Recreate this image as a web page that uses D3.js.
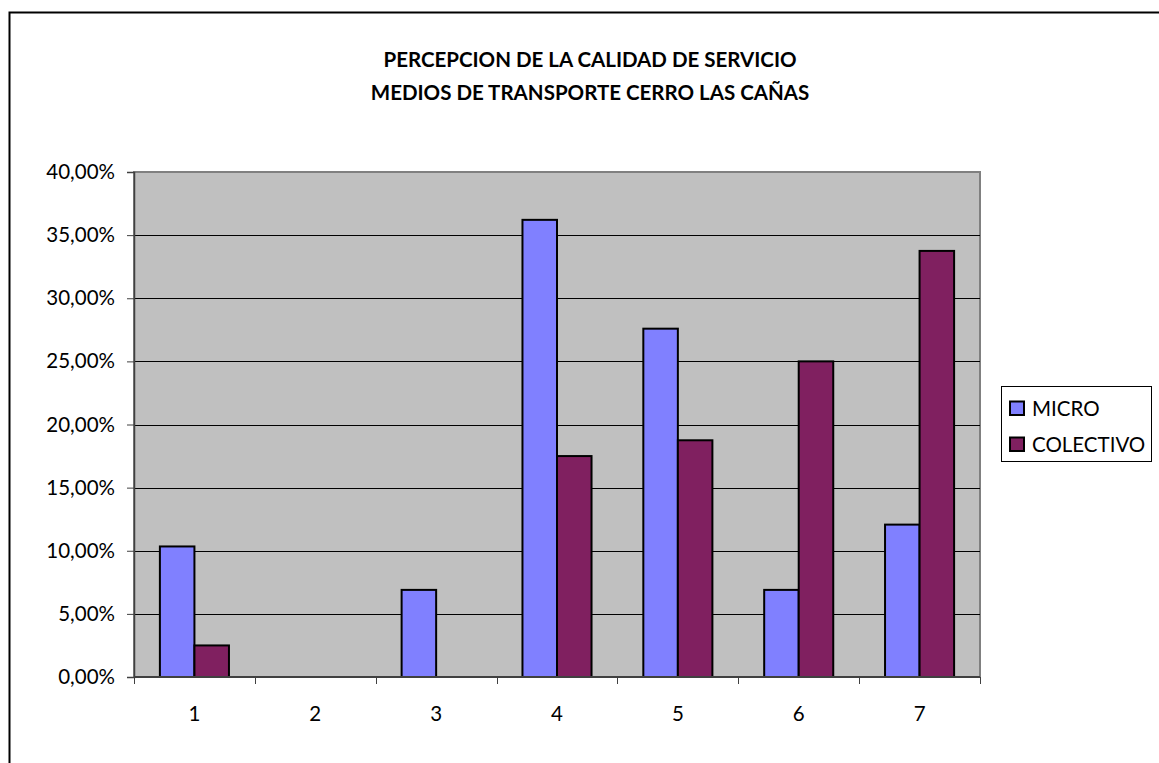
<!DOCTYPE html>
<html>
<head>
<meta charset="utf-8">
<script src="https://cdn.jsdelivr.net/npm/d3@7"></script>
<style>
  html, body { margin: 0; padding: 0; background: #fff; }
  svg { display: block; font-family: Lato, "Open Sans", sans-serif; }
</style>
</head>
<body>
<svg id="chart" width="1159" height="763"></svg>
<script>
// data
const categories = ['1', '2', '3', '4', '5', '6', '7'];
const microValues = [10.34, 0, 6.90, 36.21, 27.59, 6.90, 12.07];
const colectivoValues = [2.5, 0, 0, 17.5, 18.75, 25, 33.75];
const seriesNames = ['MICRO', 'COLECTIVO'];
const yTicks = [0, 5, 10, 15, 20, 25, 30, 35, 40];
const titleLines = ['PERCEPCION DE LA CALIDAD DE SERVICIO', 'MEDIOS DE TRANSPORTE CERRO LAS CAÑAS'];

const COLORS = { micro: '#8080FF', colectivo: '#802060', plot: '#C0C0C0' };

const svg = d3.select('#chart');

// outer chart border (runs off the right/bottom edge)
svg.append('rect')
    .attr('x', 9.5).attr('y', 12.5)
    .attr('width', 1200).attr('height', 800)
    .attr('fill', '#fff')
    .attr('stroke', '#000')
    .attr('stroke-width', 2);

// title
svg.append('g').selectAll('text')
    .data(titleLines)
    .join('text')
    .attr('x', 590)
    .attr('y', (d, i) => 67 + i * 32.5)
    .attr('text-anchor', 'middle')
    .attr('font-weight', 'bold')
    .attr('font-size', 20.5)
    .attr('fill', '#000')
    .text(d => d);

const plot = { left: 134, right: 980, top: 172, bottom: 677 };

const x0 = d3.scaleBand()
    .domain(categories)
    .range([plot.left, plot.right])
    .paddingInner(0)
    .paddingOuter(0);

// gap width 150% -> bars take 2/3.5 of the category
const barW = x0.bandwidth() / 3.5;
const groupOffset = (x0.bandwidth() - 2 * barW) / 2;

const y = d3.scaleLinear().domain([0, 40]).range([plot.bottom, plot.top]);

// plot area
svg.append('rect')
    .attr('x', plot.left).attr('y', plot.top)
    .attr('width', plot.right - plot.left)
    .attr('height', plot.bottom - plot.top)
    .attr('fill', COLORS.plot)
    .attr('stroke', '#808080')
    .attr('stroke-width', 2);

// gridlines
svg.append('g').selectAll('line')
    .data(yTicks.filter(t => t > 0 && t < 40))
    .join('line')
    .attr('x1', plot.left).attr('x2', plot.right)
    .attr('y1', d => Math.round(y(d)) + 0.5).attr('y2', d => Math.round(y(d)) + 0.5)
    .attr('stroke', '#000')
    .attr('stroke-width', 1);

// bars
const series = [
    { name: seriesNames[0], values: microValues, color: COLORS.micro, idx: 0 },
    { name: seriesNames[1], values: colectivoValues, color: COLORS.colectivo, idx: 1 }
];

series.forEach(s => {
    svg.append('g').selectAll('rect')
        .data(s.values.map((v, i) => ({ cat: categories[i], v })).filter(d => d.v > 0))
        .join('rect')
        .attr('x', d => x0(d.cat) + groupOffset + s.idx * barW)
        .attr('y', d => y(d.v))
        .attr('width', barW)
        .attr('height', d => y(0) - y(d.v))
        .attr('fill', s.color)
        .attr('stroke', '#000')
        .attr('stroke-width', 2);
});

// y axis
const yAxis = svg.append('g')
    .attr('transform', `translate(${plot.left},0)`)
    .call(d3.axisLeft(y)
        .tickValues(yTicks)
        .tickSize(7)
        .tickPadding(12)
        .tickFormat(d => d3.format('.2f')(d).replace('.', ',') + '%'));
yAxis.select('.domain').attr('stroke', '#404040').attr('stroke-width', 1.5);
yAxis.selectAll('.tick line').attr('stroke', '#404040');
yAxis.selectAll('text')
    .attr('font-size', 20.5)
    .attr('font-family', 'Lato, sans-serif')
    .attr('fill', '#000');

// x axis: ticks on category boundaries, labels centred
const xAxisG = svg.append('g').attr('transform', `translate(0,${plot.bottom})`);
xAxisG.append('line')
    .attr('x1', plot.left).attr('x2', plot.right)
    .attr('y1', 0).attr('y2', 0)
    .attr('stroke', '#404040').attr('stroke-width', 2);
const boundaries = categories.map(c => x0(c)).concat([plot.right]);
xAxisG.selectAll('line.tk')
    .data(boundaries)
    .join('line')
    .attr('class', 'tk')
    .attr('x1', d => Math.round(d) + 0.5).attr('x2', d => Math.round(d) + 0.5)
    .attr('y1', 0).attr('y2', 7)
    .attr('stroke', '#404040');
xAxisG.selectAll('text')
    .data(categories)
    .join('text')
    .attr('x', d => x0(d) + x0.bandwidth() / 2)
    .attr('y', 44)
    .attr('text-anchor', 'middle')
    .attr('font-size', 20.5)
    .attr('fill', '#000')
    .text(d => d);

// legend
const legend = svg.append('g');
legend.append('rect')
    .attr('x', 1001.5).attr('y', 386.5)
    .attr('width', 150).attr('height', 75)
    .attr('fill', '#fff')
    .attr('stroke', '#000')
    .attr('stroke-width', 1);
const items = legend.selectAll('g.item')
    .data(series)
    .join('g')
    .attr('class', 'item')
    .attr('transform', (d, i) => `translate(1010,${401.5 + i * 36})`);
items.append('rect')
    .attr('width', 14).attr('height', 13.5)
    .attr('fill', d => d.color)
    .attr('stroke', '#000')
    .attr('stroke-width', 2);
items.append('text')
    .attr('x', 22)
    .attr('y', 14.5)
    .attr('font-size', 20.5)
    .attr('fill', '#000')
    .text(d => d.name);
</script>
</body>
</html>
